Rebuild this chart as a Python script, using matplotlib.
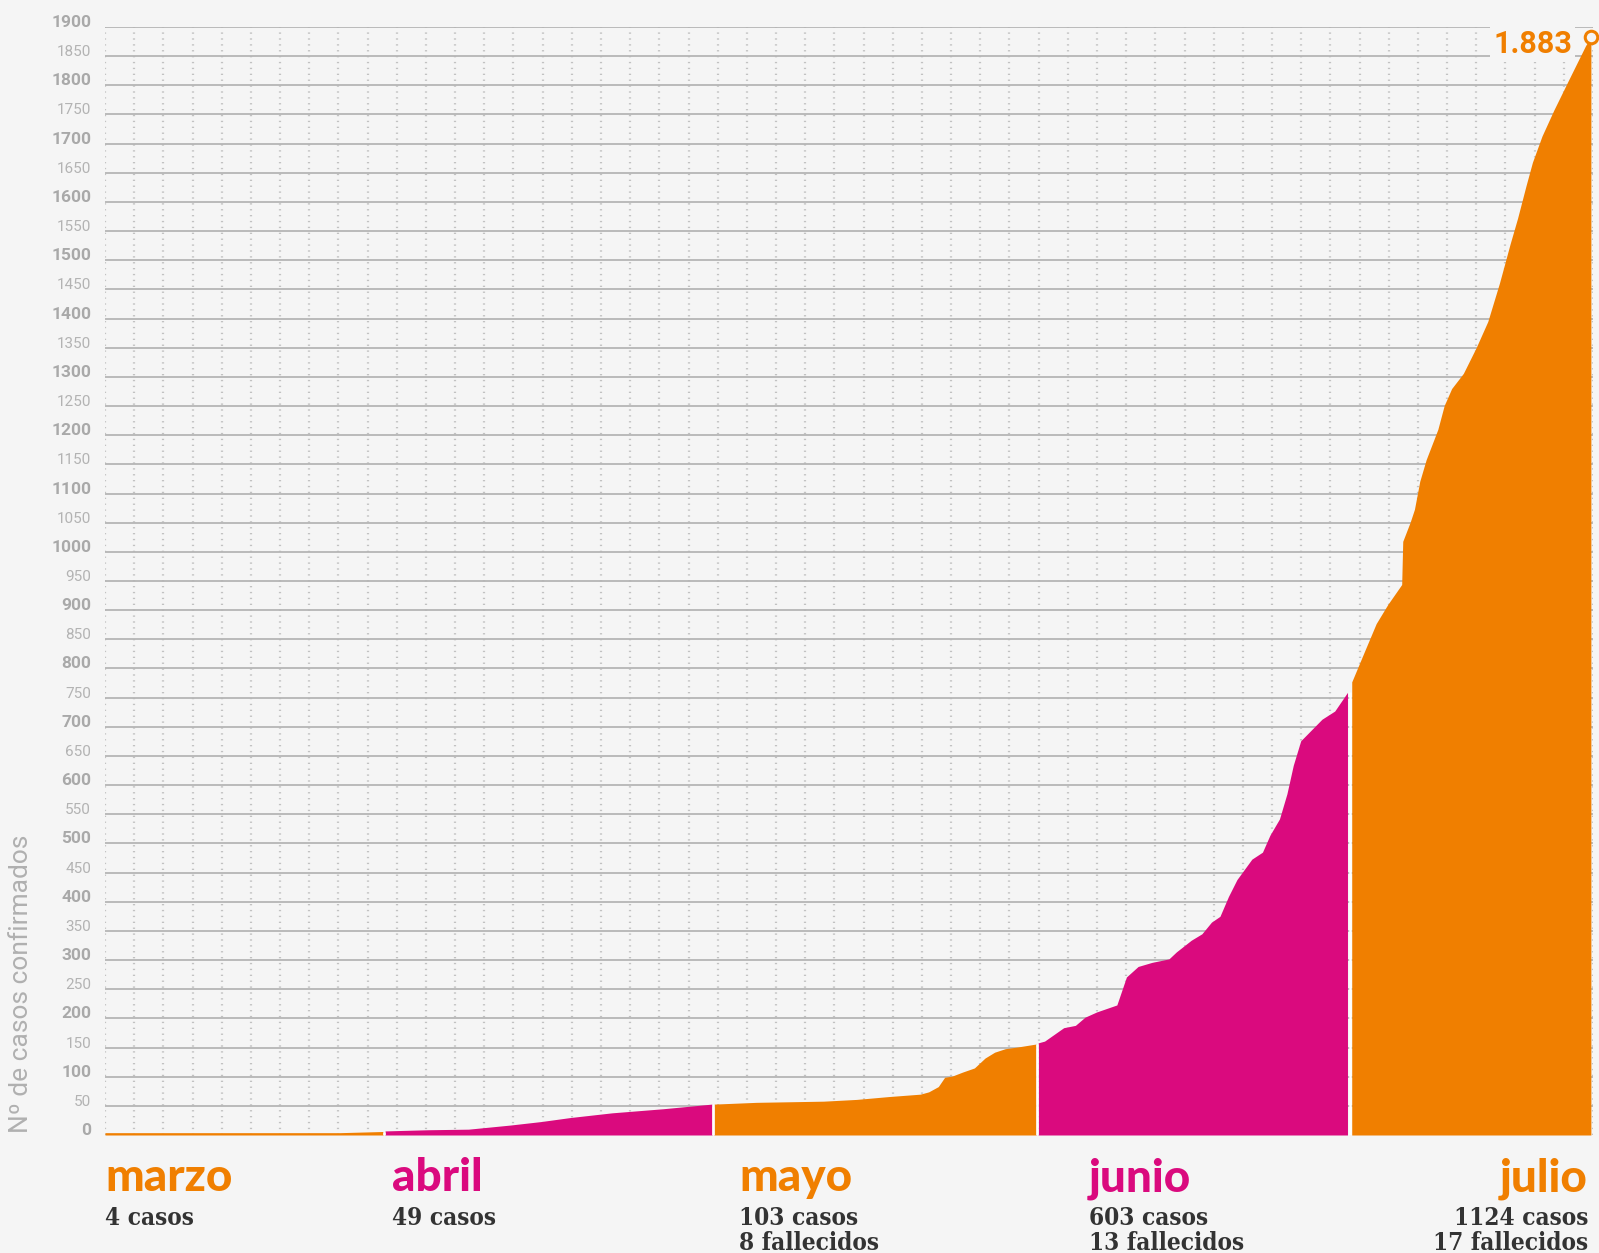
import numpy as np
import matplotlib.pyplot as plt

# dia = dias desde el 1 de marzo (posicion), casos acumulados
marzo_dia = [5.0, 27.1, 31.15]
marzo_casos = [4, 4, 6]
abril_dia = [31.35, 35.4, 39.2, 43.1, 46.0, 48.8, 52.7, 57.5, 62.1]
abril_casos = [7, 9, 10, 17, 23, 30, 38, 45, 53]
mayo_dia = [62.3, 66.3, 72.6, 75.7, 78.8, 81.7, 82.5, 83.4, 84.0, 84.7,
            85.7, 86.8, 87.8, 88.7, 89.7, 90.9, 92.6]
mayo_casos = [53, 56, 58, 61, 66, 70, 74, 83, 99, 101,
              108, 115, 132, 142, 148, 151, 156]
junio_dia = [92.8, 93.4, 95.2, 96.3, 97.2, 98.3, 100.2, 101.1, 102.2, 103.5,
             105.1, 105.8, 107.2, 108.2, 109.1, 109.9, 110.7, 111.5, 112.9, 113.9,
             114.6, 115.5, 116.2, 116.8, 117.5, 119.5, 120.7, 121.9]
junio_casos = [158, 161, 184, 188, 202, 211, 223, 271, 289, 296,
               302, 314, 334, 345, 365, 375, 409, 438, 473, 485,
               514, 542, 585, 634, 676, 713, 727, 759]
julio_dia = [122.3, 123.4, 124.6, 125.7, 127.0, 127.1, 127.8, 128.2, 128.7, 129.3,
             130.4, 131.0, 131.7, 132.8, 134.0, 135.1, 136.2, 137.2, 137.9, 138.7,
             139.3, 140.2, 141.3, 142.7, 144.3, 144.8]
julio_casos = [777, 825, 877, 910, 944, 1018, 1051, 1073, 1121, 1158,
               1210, 1251, 1280, 1306, 1350, 1395, 1461, 1528, 1572, 1628,
               1668, 1713, 1757, 1809, 1868, 1883]

meses = ['marzo', 'abril', 'mayo', 'junio', 'julio']
casos_mes = [4, 49, 103, 603, 1124]
fallecidos_mes = [None, None, 8, 13, 17]

naranja = '#f07f00'
magenta = '#da0a7e'
fondo = '#f5f5f5'

W, H = 1599, 1253
fig = plt.figure(figsize=(W / 100, H / 100), dpi=100, facecolor=fondo)
ax = fig.add_axes([105 / W, 1 - 1135 / H, (1593 - 105) / W, (1135 - 27) / H])
ax.set_facecolor(fondo)
ax.set_xlim(5, 145)
ax.set_ylim(0, 1900)

# rejilla
for x in np.linspace(5, 145, 52):
    ax.axvline(x, color='#c2c2c2', lw=1.6, ls=(0, (0.6, 2.05)), zorder=0.5)
ticks = list(range(0, 1901, 50))
for t in ticks[1:]:
    ax.axhline(t, color='#b5b5b5', lw=1.3, zorder=1)

segmentos = [(marzo_dia, marzo_casos, naranja), (abril_dia, abril_casos, magenta),
             (mayo_dia, mayo_casos, naranja), (junio_dia, junio_casos, magenta),
             (julio_dia, julio_casos, naranja)]
for d, c, col in segmentos:
    ax.fill_between(d, 0, c, color=col, lw=0, zorder=2)

# separadores blancos entre meses
for (d1, c1, _), (d2, c2, _) in zip(segmentos[:-1], segmentos[1:]):
    ax.vlines((d1[-1] + d2[0]) / 2, 0, c1[-1], color='white', lw=1.8, zorder=3)

ax.set_yticks(ticks)
ax.set_yticklabels([str(t) for t in ticks])
ax.tick_params(length=0, pad=10, left=False, bottom=False, labelbottom=False)
for lab, t in zip(ax.get_yticklabels(), ticks):
    lab.set_family('Roboto')
    lab.set_verticalalignment('baseline')
    if t % 100 == 0:
        lab.set_fontweight('bold')
        lab.set_fontsize(12.5)
        lab.set_color('#a9a9a9')
    else:
        lab.set_fontsize(11)
        lab.set_color('#b3b3b3')
for s in ax.spines.values():
    s.set_visible(False)

# ultimo valor
ax.plot(julio_dia[-1], julio_casos[-1], 'o', ms=9, mfc=fondo, mec=naranja,
        mew=2.2, zorder=5, clip_on=False)
ax.annotate('{:,}'.format(julio_casos[-1]).replace(',', '.'),
            (julio_dia[-1], julio_casos[-1]), xytext=(-13.5, -11.5),
            textcoords='offset points', ha='right', va='baseline',
            fontsize=22, fontweight='bold', family='Roboto', color=naranja,
            bbox=dict(boxstyle='square,pad=0.1', fc=fondo, ec='none'), zorder=6)

fig.text(33 / W, 1 - 1133 / H, 'Nº de casos confirmados', rotation=90,
         ha='right', va='bottom', fontsize=19, family='Roboto', color='#b0b0b0')

# rotulos de meses
pos_x = [105, 392, 739, 1089, 1588]
colores = [naranja, magenta, naranja, magenta, naranja]
for i, m in enumerate(meses):
    ha = 'right' if i == len(meses) - 1 else 'left'
    x = pos_x[i] / W
    fig.text(x, 1 - 1191 / H, m, ha=ha, va='baseline', fontsize=33,
             fontweight='black', family='Lato', color=colores[i])
    fig.text(x, 1 - 1225 / H, f'{casos_mes[i]} casos', ha=ha, va='baseline',
             fontsize=17.5, fontweight='bold', family='DejaVu Serif',
             fontstretch='condensed', color='#333333')
    if fallecidos_mes[i] is not None:
        fig.text(x, 1 - 1250 / H, f'{fallecidos_mes[i]} fallecidos', ha=ha,
                 va='baseline', fontsize=17.5, fontweight='bold',
                 family='DejaVu Serif', fontstretch='condensed', color='#333333')

fig.savefig('out.png', dpi=100, facecolor=fondo)
